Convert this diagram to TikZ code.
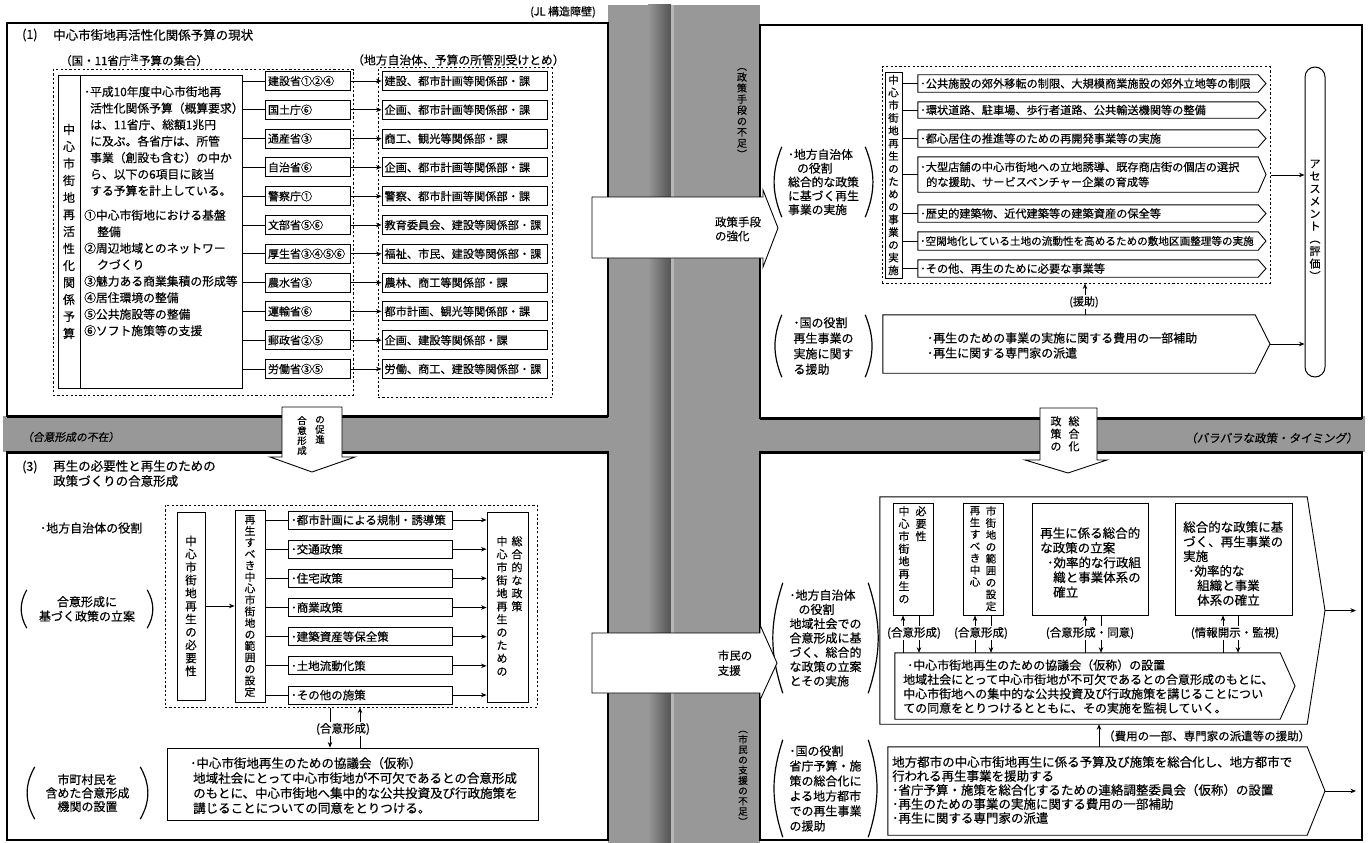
\documentclass[tikz,border=0pt]{standalone}
\usepackage{fontspec}
\setmainfont{Noto Sans CJK JP}[FakeBold=0.4]
\newfontfamily\slantjp{Noto Sans CJK JP}[FakeSlant=0.15,FakeBold=0.4]
\usetikzlibrary{arrows.meta,calc}
\definecolor{bandgray}{RGB}{152,152,152}

\newcommand\vt[1]{\vtA#1\vtEnd}
\def\vtEnd{\relax}
\def\vtA#1{#1\vtB}
\def\vtB#1{\ifx#1\vtEnd\else\\#1\expandafter\vtB\fi}

\tikzset{
 panel/.style={draw=black,line width=1.6,fill=white},
 bx/.style={draw=black,line width=0.9,fill=white,inner sep=0},
 dbx/.style={draw=black,line width=1,dash pattern=on 2.2pt off 2.2pt,inner sep=0},
 fs/.style 2 args={font=\fontsize{#1}{#2}\selectfont},
 tx/.style={inner sep=0,align=left},
 vtx/.style={inner sep=0,align=center},
 arr/.style={-{Stealth[length=5.5pt,width=4.5pt]},line width=0.9},
 ln/.style={line width=0.9},
 paren/.style={line width=1.2},
 lbl/.style={fill=white,inner sep=1},
 mbox/.style={draw=black,line width=0.9,fill=white,inner xsep=3,inner ysep=0,minimum height=19,text width=79,align=left,fs={11}{13}},
 dstbox/.style={draw=black,line width=0.9,fill=white,inner xsep=2.5,inner ysep=0,minimum height=19,text width=160,align=left,fs={11.2}{13}},
 pbox/.style={draw=black,line width=0.9,fill=white,inner xsep=3,inner ysep=0,minimum height=18,text width=158,align=left,fs={11.5}{13}},
 bigarr/.style={draw=black,line width=0.9,fill=white},
}

\newcommand\bxn[6][bx]{\node[#1,minimum width={#5-#3},minimum height={#6-#4}] (#2) at ({(#3+#5)/2},{(#4+#6)/2}) {};}
\newcommand\pent[6]{\node[inner sep=0,minimum width={#4-#2},minimum height={#5-#3}] (#1) at ({(#2+#4)/2},{(#3+#5)/2}) {};
 \coordinate (#1-tip) at (#6,{(#3+#5)/2});
 \draw[bx] (#1.north west) -- (#1.north east) -- (#1-tip) -- (#1.south east) -- (#1.south west) -- cycle;}

\begin{document}
\begin{tikzpicture}[x=1pt,y=-1pt,font=\fontsize{12}{14}\selectfont]
\useasboundingbox (0,0) rectangle (1368,843);
\fill[white] (0,0) rectangle (1368,843);
% ---------- gray bands
\fill[bandgray] (608,5) rectangle (760,843);
\fill[bandgray] (3,416) rectangle (1365,452);
\shade[left color=bandgray,right color=bandgray!55!black] (648,5) rectangle (671,843);
\fill[bandgray!70!white] (671,5) rectangle (674,843);
% ---------- panels
\draw[panel] (7,23) rectangle (608,416);
\draw[panel] (760,25) rectangle (1362,418);
\draw[panel] (7,452) rectangle (608,840);
\draw[panel] (760,452) rectangle (1362,840);
\draw[line width=3] (7,416) -- (608,416) (760,418) -- (1362,418) (7,452) -- (608,452) (760,452) -- (1362,452);

\node[fs={11}{13},inner sep=0] (toplbl) at (563,12) {(JL 構造障壁)};

% =============== TOP LEFT ===============
\node[anchor=west,fs={12.5}{15},inner sep=0] (n1) at (22,35) {(1)};
\node[anchor=west,fs={12.5}{15},inner sep=0] (t1) at (53,35) {中心市街地再活性化関係予算の現状};
\node[anchor=west,fs={11.5}{14},inner sep=0] (h1) at (60,60) {（国・11省庁\textsuperscript{注}予算の集合）};
\node[anchor=west,fs={11.8}{14},inner sep=0] (h2) at (352,60) {（地方自治体、予算の所管別受けとめ）};
\bxn[dbx]{dL1}{53}{70}{353}{395}
\bxn[dbx]{dL2}{378}{68}{552}{397}
\bxn{budv}{58}{75}{80}{388}
\bxn{budt}{80}{75}{242}{388}
\node[vtx,fs={12}{17}] (budvt) at (budv) {\vt{中心市街地再活性化関係予算}};
\node[tx,anchor=north west,fs={11.8}{16.5}] (budp) at (84,86) {･平成10年度中心市街地再\\\hspace*{6pt}活性化関係予算（概算要求）\\\hspace*{6pt}は、11省庁、総額1兆円\\\hspace*{6pt}に及ぶ。各省庁は、所管\\\hspace*{6pt}事業（創設も含む）の中か\\\hspace*{6pt}ら、以下の6項目に該当\\\hspace*{6pt}する予算を計上している。\\[8pt]①中心市街地における基盤\\\hspace*{13pt}整備\\②周辺地域とのネットワー\\\hspace*{13pt}クづくり\\③魅力ある商業集積の形成等\\④居住環境の整備\\⑤公共施設等の整備\\⑥ソフト施策等の支援};

\foreach \i/\mi/\dn in {0/建設省①②④/建設、都市計画等関係部・課,1/国土庁⑥/企画、都市計画等関係部・課,2/通産省③/商工、観光等関係部・課,3/自治省⑥/企画、都市計画等関係部・課,4/警察庁①/警察、都市計画等関係部・課,5/文部省⑤⑥/教育委員会、建設等関係部・課,6/厚生省③④⑤⑥/福祉、市民、建設等関係部・課,7/農水省③/農林、商工等関係部・課,8/運輸省⑥/都市計画、観光等関係部・課,9/郵政省②⑤/企画、建設等関係部・課,10/労働省③⑤/労働、商工、建設等関係部・課}{
 \node[mbox] (m\i) at (307.5,{81+28.8*\i}) {\mi};
 \node[dstbox] (d\i) at (464.5,{81+28.8*\i}) {\dn};
 \draw[ln] (budt.east |- m\i.west) -- (m\i.west);
 \draw[arr] (m\i.east) -- (d\i.west);
}

% =============== BOTTOM LEFT ===============
\node[anchor=west,fs={12.5}{15},inner sep=0] (n3) at (22,467) {(3)};
\node[tx,anchor=north west,fs={12.5}{15}] (t3) at (53,460) {再生の必要性と再生のための\\政策づくりの合意形成};
\node[anchor=west,fs={12}{14},inner sep=0] (role1) at (40,528) {･地方自治体の役割};
\node[vtx,fs={12}{14.5},minimum width=120,minimum height=38] (br5) at (87,609) {合意形成に\\基づく政策の立案};
\draw[paren] (br5.north west) to[bend right=30] (br5.south west);
\draw[paren] (br5.north east) to[bend left=30] (br5.south east);
\node[vtx,fs={12}{13.5},minimum width=105,minimum height=52] (br6) at (87.5,793) {市町村民を\\含めた合意形成\\機関の設置};
\draw[paren] (br6.north west) to[bend right=30] (br6.south west);
\draw[paren] (br6.north east) to[bend left=30] (br6.south east);

\bxn[dbx]{dL3}{165}{505}{537}{707}
\bxn{nA}{177}{512}{205}{700}
\bxn{nB}{235}{510}{265}{702}
\bxn{nC}{487}{512}{528}{702}
\node[vtx,fs={11.5}{13}] (nAt) at (nA) {\vt{中心市街地再生の必要性}};
\node[vtx,fs={10.8}{11.5}] (nBt) at (nB) {\vt{再生すべき中心市街地の範囲の設定}};
\node[vtx,fs={11}{13},anchor=north] (nCl) at (502,536) {\vt{中心市街地再生のための}};
\node[vtx,fs={11}{13},anchor=north] (nCr) at (517,536) {\vt{総合的な政策}};
\draw[arr] (nA.east) -- (nB.west);
\foreach \i/\pn in {0/･都市計画による規制・誘導策,1/･交通政策,2/･住宅政策,3/･商業政策,4/･建築資産等保全策,5/･土地流動化策,6/･その他の施策}{
 \node[pbox] (p\i) at (370,{520+29.17*\i}) {\pn};
 \draw[ln] (nB.east |- p\i.west) -- (p\i.west);
 \draw[arr] (p\i.east) -- (nC.west |- p\i.east);
}
\bxn{kyo1}{167}{748}{538}{820}
\node[tx,anchor=west,fs={12.5}{15}] (kyo1t) at (190,785.5) {･中心市街地再生のための協議会（仮称）\\\hspace*{3pt}地域社会にとって中心市街地が不可欠であるとの合意形成\\\hspace*{3pt}のもとに、中心市街地へ集中的な公共投資及び行政施策を\\\hspace*{3pt}講じることについての同意をとりつける。};
\draw[arr] (330,0 |- dL3.south) -- (330,0 |- kyo1.north);
\draw[arr] (360,0 |- kyo1.north) -- (360,0 |- dL3.south);
\node[lbl,fs={11.5}{13}] (gi1) at (343,729) {(合意形成)};

% =============== TOP RIGHT ===============
\node[tx,fs={11.8}{13.8},minimum width=83,minimum height=70] (br1) at (823.5,182) {･地方自治体\\\hspace*{9pt}の役割\\総合的な政策\\に基づく再生\\事業の実施};
\draw[paren] (br1.north west) to[bend right=22] (br1.south west);
\draw[paren] (br1.north east) to[bend left=22] (br1.south east);
\node[tx,fs={12}{15.5},minimum width=83,minimum height=62] (br2) at (823.5,346) {･国の役割\\再生事業の\\実施に関す\\る援助};
\draw[paren] (br2.north west) to[bend right=22] (br2.south west);
\draw[paren] (br2.north east) to[bend left=22] (br2.south east);

\bxn[dbx]{dR}{882}{67}{1270}{283}
\bxn{Lb}{885}{72}{902}{278}
\node[vtx,fs={10.5}{12.7}] (Lbt) at (Lb) {\vt{中心市街地再生のための事業の実施}};
\pent{i1}{918}{75}{1258}{92}{1266}
\pent{i2}{918}{102}{1258}{118}{1266}
\pent{i3}{918}{130}{1258}{147}{1266}
\pent{i4}{918}{157}{1258}{192}{1266}
\pent{i5}{918}{205}{1258}{222}{1266}
\pent{i6}{918}{232}{1258}{250}{1266}
\pent{i7}{918}{260}{1258}{277}{1266}
\node[tx,anchor=west,fs={11.2}{13}] (i1t) at (920,83.5) {･公共施設の郊外移転の制限、大規模商業施設の郊外立地等の制限};
\node[tx,anchor=west,fs={11.2}{13}] (i2t) at (920,110) {･環状道路、駐車場、歩行者道路、公共輸送機関等の整備};
\node[tx,anchor=west,fs={11.2}{13}] (i3t) at (920,138.5) {･都心居住の推進等のための再開発事業等の実施};
\node[tx,anchor=west,fs={11.2}{15}] (i4t) at (920,174.5) {･大型店舗の中心市街地への立地誘導、既存商店街の個店の選択\\\hspace*{6pt}的な援助、サービスベンチャー企業の育成等};
\node[tx,anchor=west,fs={11.2}{13}] (i5t) at (920,213.5) {･歴史的建築物、近代建築等の建築資産の保全等};
\node[tx,anchor=west,fs={10.6}{13}] (i6t) at (920,241) {･空閑地化している土地の流動性を高めるための敷地区画整理等の実施};
\node[tx,anchor=west,fs={11.2}{13}] (i7t) at (920,268.5) {･その他、再生のために必要な事業等};
\foreach \k in {1,...,7}{\draw[ln] (Lb.east |- i\k.west) -- (i\k.west);}

\node[draw=black,line width=1,fill=white,rounded corners=10,minimum width=20,minimum height=310,inner sep=0] (as) at (1315,222) {};
\node[vtx,fs={11}{12.5}] (ast) at (1315,220) {\vt{アセスメント︵評価︶}};
\pent{pb}{883}{315}{1255}{373}{1270}
\node[tx,anchor=west,fs={12}{15}] (pbt) at (927,345.5) {･再生のための事業の実施に関する費用の一部補助\\･再生に関する専門家の派遣};
\draw[arr] (dR.east) -- (as.west |- dR.east);
\draw[arr] (pb-tip) -- (as.west |- pb-tip);
\draw[arr] (1085,0 |- pb.north) -- (1085,0 |- dR.south);
\node[lbl,fs={11}{13}] (aid) at (1084,302) {(援助)};

% =============== BOTTOM RIGHT ===============
\node[tx,fs={12}{14.3},minimum width=85,minimum height=110] (br3) at (825.5,638) {･地方自治体\\\hspace*{9pt}の役割\\地域社会での\\合意形成に基\\づく、総合的\\な政策の立案\\とその実施};
\draw[paren] (br3.north west) to[bend right=18] (br3.south west);
\draw[paren] (br3.north east) to[bend left=18] (br3.south east);
\node[tx,fs={12}{15},minimum width=85,minimum height=97] (br4) at (825.5,788.5) {･国の役割\\省庁予算・施\\策の総合化に\\よる地方都市\\での再生事業\\の援助};
\draw[paren] (br4.north west) to[bend right=18] (br4.south west);
\draw[paren] (br4.north east) to[bend left=18] (br4.south east);

\pent{bp}{880}{497}{1307}{724}{1325}
\coordinate (bpend) at (1356,610.5);
\draw[arr] (bp-tip) -- (bpend);
\bxn{B1}{893}{503}{933}{615}
\bxn{B2}{963}{503}{1003}{615}
\bxn{B3}{1032}{503}{1148}{615}
\bxn{B4}{1175}{503}{1292}{615}
\node[vtx,fs={11}{12.5},anchor=north] (B1l) at (904,506) {\vt{中心市街地再生の}};
\node[vtx,fs={11}{12.5},anchor=north] (B1r) at (921,506) {\vt{必要性}};
\node[vtx,fs={10.5}{11.9},anchor=north] (B2l) at (975,506) {\vt{再生すべき中心}};
\node[vtx,fs={10.5}{11.9},anchor=north] (B2r) at (991,506) {\vt{市街地の範囲の設定}};
\node[tx,anchor=west,fs={12.5}{14.75}] (B3t) at (1040,562.5) {再生に係る総合的\\な政策の立案\\\hspace*{7pt}･効率的な行政組\\\hspace*{13pt}織と事業体系の\\\hspace*{13pt}確立};
\node[tx,anchor=west,fs={12.5}{14.6}] (B4t) at (1183,563.5) {総合的な政策に基\\づく、再生事業の\\実施\\\hspace*{5pt}･効率的な\\\hspace*{14pt}組織と事業\\\hspace*{14pt}体系の確立};

\pent{cb}{895}{653}{1280}{719}{1295}
\node[tx,anchor=west,fs={12}{14.3}] (cbt) at (903,686.5) {\hspace*{4pt}･中心市街地再生のための協議会（仮称）の設置\\地域社会にとって中心市街地が不可欠であるとの合意形成のもとに、\\中心市街地への集中的な公共投資及び行政施策を講じることについ\\ての同意をとりつけるとともに、その実施を監視していく。};
\foreach \u/\d/\bb in {903/919/B1,975/991/B2,1085/1101/B3,1223/1238/B4}{
 \draw[arr] (\u,0 |- cb.north) -- (\u,0 |- \bb.south);
 \draw[arr] (\d,0 |- \bb.south) -- (\d,0 |- cb.north);
}
\node[lbl,fs={11.5}{13}] (g1) at (914,633) {(合意形成)};
\node[lbl,fs={11.5}{13}] (g2) at (981,633) {(合意形成)};
\node[lbl,fs={11.5}{13}] (g3) at (1090,633) {(合意形成・同意)};
\node[lbl,fs={11.5}{13}] (g4) at (1235,633) {(情報開示・監視)};

\pent{lp}{888}{747}{1307}{835}{1325}
\coordinate (lpend) at (1356,791);
\draw[arr] (lp-tip) -- (lpend);
\node[tx,anchor=west,fs={12.5}{14}] (lpt) at (892,790) {地方都市の中心市街地再生に係る予算及び施策を総合化し、地方都市で\\行われる再生事業を援助する\\･省庁予算・施策を総合化するための連絡調整委員会（仮称）の設置\\･再生のための事業の実施に関する費用の一部補助\\･再生に関する専門家の派遣};
\draw[arr] (1099,0 |- lp.north) -- (1099,0 |- bp.south);
\node[anchor=west,inner sep=0,fs={11.5}{13}] (hiyo) at (1103,736) {（費用の一部、専門家の派遣等の援助）};

% =============== band labels ===============
\node[anchor=west,inner sep=0,font=\slantjp\fontsize{10.8}{13}\selectfont] (lack2) at (22,437) {（合意形成の不在）};
\node[anchor=east,inner sep=0,font=\slantjp\fontsize{11.5}{13}\selectfont] (lack3) at (1358,438) {（バラバラな政策・タイミング）};
\node[vtx,fs={10}{11}] (lack1) at (742,113) {\vt{︵政策手段の不足︶}};
\node[vtx,fs={9.5}{10.3}] (lack4) at (743,778) {\vt{︵市民の支援の不足︶}};

% =============== big arrows ===============
\draw[bigarr] (592,197) -- (763,197) -- (763,190) -- (778,228) -- (763,267) -- (763,258) -- (592,258) -- cycle;
\node[tx,fs={11.5}{14}] (a1t) at (738,229) {政策手段\\の強化};
\draw[bigarr] (592,633) -- (760,633) -- (760,625) -- (777,663) -- (760,700) -- (760,693) -- (592,693) -- cycle;
\node[tx,fs={11.5}{15}] (a2t) at (735,663) {市民の\\支援};
\draw[bigarr] (282,407) -- (342,407) -- (342,457) -- (355,457) -- (312,472) -- (270,457) -- (282,457) -- cycle;
\node[vtx,fs={9.5}{10},anchor=north] (a3l) at (302,416) {\vt{合意形成}};
\node[vtx,fs={9.5}{10},anchor=north] (a3r) at (320,416) {\vt{の促進}};
\draw[bigarr] (1040,408) -- (1097,408) -- (1097,460) -- (1107,460) -- (1068,473) -- (1025,460) -- (1040,460) -- cycle;
\node[vtx,fs={11}{12.5},anchor=north] (a4l) at (1056,416) {\vt{政策の}};
\node[vtx,fs={11}{12.5},anchor=north] (a4r) at (1074,416) {\vt{総合化}};
\end{tikzpicture}
\end{document}
